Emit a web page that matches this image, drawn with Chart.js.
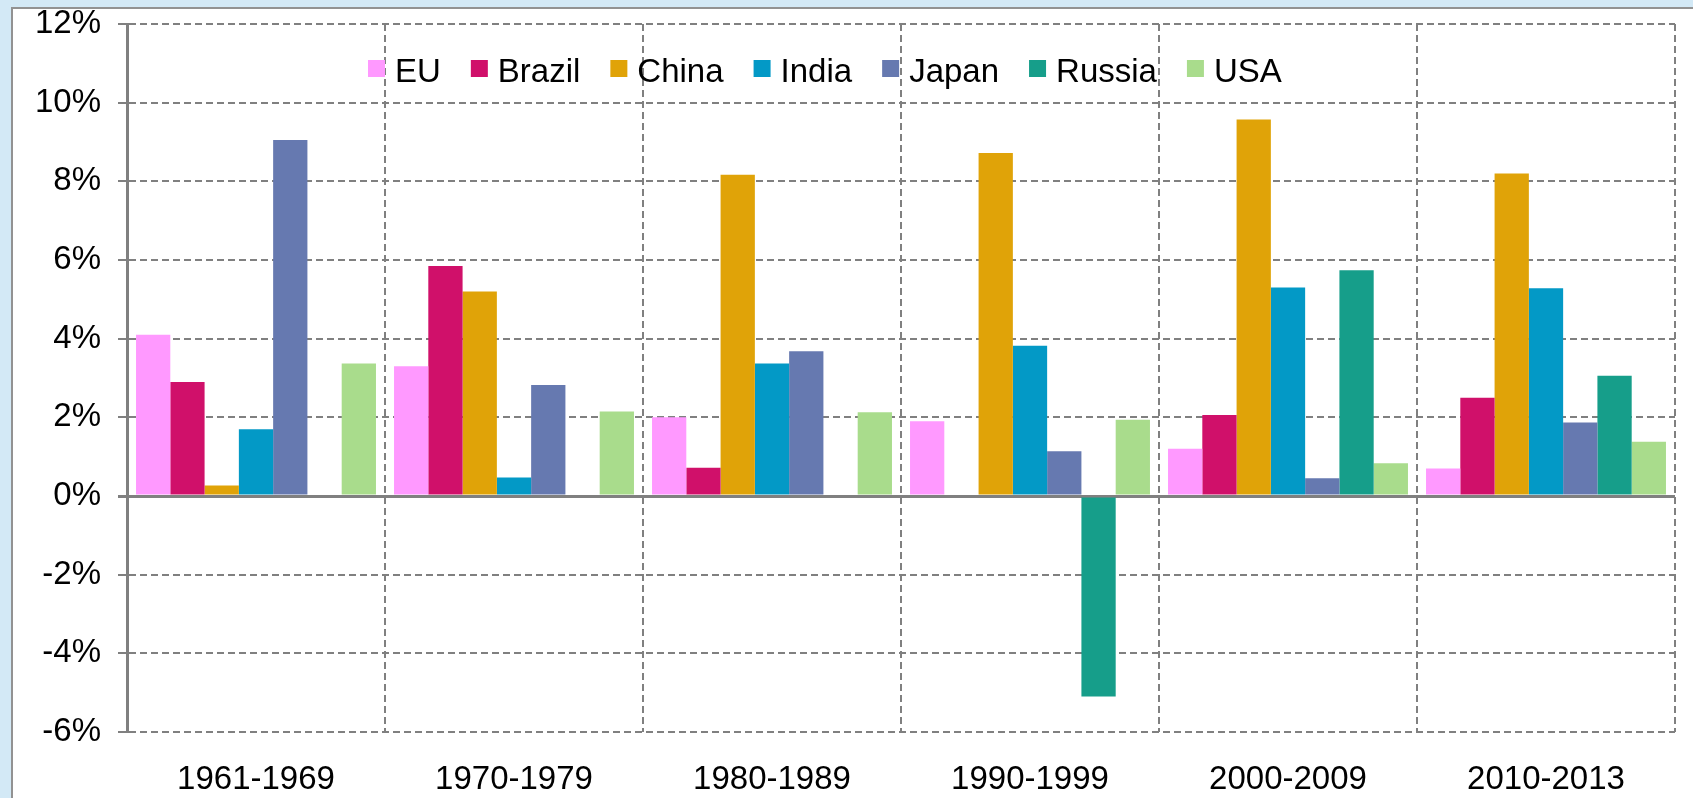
<!DOCTYPE html>
<html>
<head>
<meta charset="utf-8">
<script src="https://cdn.jsdelivr.net/npm/chart.js@4.4.1/dist/chart.umd.min.js"></script>
<style>
  html, body { margin: 0; padding: 0; background: #d3e9f6; overflow: hidden; }
  #panel { position: absolute; left: 11px; top: 7px; width: 1720px; height: 820px;
           background: #fff; border: 2px solid #929292; }
  #wrap { position: absolute; left: 0; top: 0; width: 1693px; height: 798px; }
</style>
</head>
<body>
<div id="panel"></div>
<div id="wrap"><canvas id="chart"></canvas></div>
<script>
// periodos
const periods = ['1961-1969', '1970-1979', '1980-1989', '1990-1999', '2000-2009', '2010-2013'];
// crecimiento medio anual (%)
const eu     = [4.1, 3.3, 2.0, 1.9, 1.2, 0.7];
const brazil = [2.9, 5.85, 0.72, null, 2.06, 2.5];
const china  = [0.27, 5.2, 8.17, 8.72, 9.57, 8.2];
const india  = [1.7, 0.47, 3.37, 3.82, 5.3, 5.28];
const japan  = [9.05, 2.82, 3.68, 1.14, 0.45, 1.87];
const russia = [null, null, null, -5.1, 5.74, 3.06];
const usa    = [3.37, 2.15, 2.13, 1.94, 0.83, 1.38];
const yTicks = [-6, -4, -2, 0, 2, 4, 6, 8, 10, 12];

const names  = ['EU', 'Brazil', 'China', 'India', 'Japan', 'Russia', 'USA'];
const series = [eu, brazil, china, india, japan, russia, usa];
const colors = ['#ff99ff', '#d0106a', '#e0a308', '#0399c6', '#6679b0', '#169e8a', '#a9dc8c'];

const gridColor = '#808080';
const font = { family: 'Liberation Sans, Arial, sans-serif', size: 33 };

// leyenda dibujada a mano, dentro del area del grafico
const legendPlugin = {
  id: 'myLegend',
  afterDraw(chart) {
    const ctx = chart.ctx;
    ctx.save();
    ctx.font = font.size + 'px ' + font.family;
    ctx.textBaseline = 'alphabetic';
    let x = 368;
    chart.data.datasets.forEach(ds => {
      ctx.fillStyle = ds.backgroundColor;
      ctx.fillRect(x, 60, 17, 17);
      ctx.fillStyle = '#000';
      ctx.fillText(ds.label, x + 27, 82);
      x += 27 + ctx.measureText(ds.label).width + 30;
    });
    ctx.restore();
  }
};

const ctx = document.getElementById('chart').getContext('2d');
new Chart(ctx, {
  type: 'bar',
  data: {
    labels: periods,
    datasets: names.map((n, i) => ({
      label: n,
      data: series[i],
      backgroundColor: colors[i],
      borderWidth: 0,
      categoryPercentage: 0.93,
      barPercentage: 1
    }))
  },
  options: {
    responsive: true,
    maintainAspectRatio: false,
    animation: false,
    layout: { padding: { top: 24, right: 18, bottom: 0, left: 0 } },
    plugins: {
      legend: { display: false },
      tooltip: { enabled: false }
    },
    scales: {
      x: {
        grid: { color: gridColor, lineWidth: 2, drawTicks: false, offset: true },
        border: { display: false, dash: [7, 4] },
        ticks: { font: font, color: '#000', padding: 28, maxRotation: 0 },
        afterFit: s => { s.height = 66; s.paddingLeft = 0; s.paddingRight = 0; }
      },
      y: {
        min: -6,
        max: 12,
        afterBuildTicks: s => { s.ticks = yTicks.map(v => ({ value: v })); },
        grid: {
          color: gridColor,
          lineWidth: c => (c.tick && c.tick.value === 0 ? 3 : 2),
          tickLength: 9,
          tickBorderDash: []
        },
        border: {
          color: gridColor,
          width: 3,
          dash: c => (c.tick && c.tick.value === 0 ? [] : [7, 4])
        },
        ticks: {
          font: font,
          color: '#000',
          padding: 17,
          callback: v => v + '%'
        },
        afterFit: s => { s.width = 127; s.paddingTop = 0; s.paddingBottom = 0; }
      }
    }
  },
  plugins: [legendPlugin]
});
</script>
</body>
</html>
